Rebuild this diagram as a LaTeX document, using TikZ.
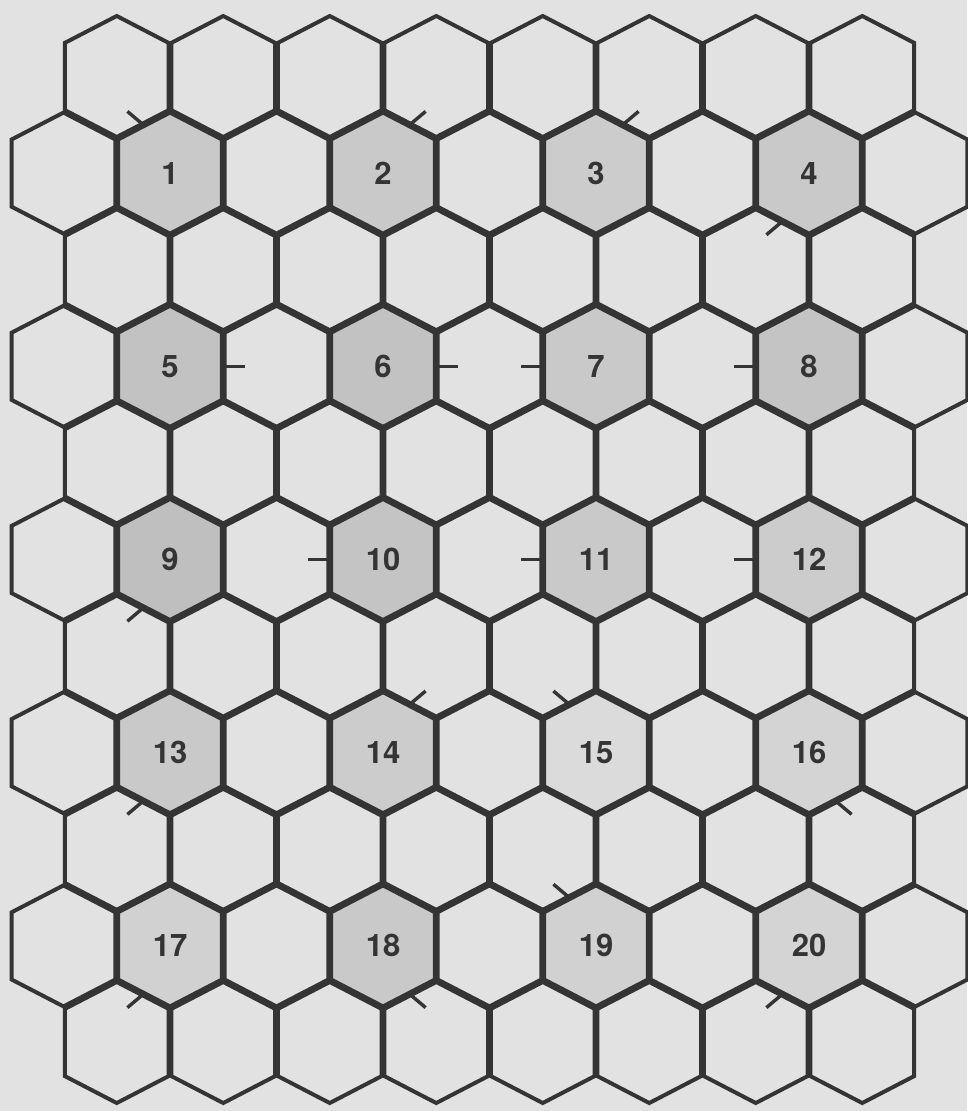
\documentclass[tikz,border=0pt]{standalone}
\usepackage{fontspec}
\setmainfont{TeX Gyre Heros}
\definecolor{paper}{RGB}{226,226,226}
\definecolor{ink}{RGB}{52,52,52}
\newcommand\HexAt[2]{%
  \begin{scope}[shift={(#1,#2)}]
    \clip[scale=1.012] (0,-62)--(53.25,-34.4)--(53.25,34.4)--(0,62)--(-53.25,34.4)--(-53.25,-34.4)--cycle;
    \draw[hexline] (0,-62)--(53.25,-34.4)--(53.25,34.4)--(0,62)--(-53.25,34.4)--(-53.25,-34.4)--cycle;
  \end{scope}}
\newcommand\HexFill[3]{%
  \fill[black!#3,shift={(#1,#2)}] (0,-62)--(53.25,-34.4)--(53.25,34.4)--(0,62)--(-53.25,34.4)--(-53.25,-34.4)--cycle;}
\begin{document}
\begin{tikzpicture}[x=1pt,y=-1pt,
  hexline/.style={draw=ink,line width=6.6pt,line join=round},
  tickmark/.style={draw=ink,line width=3.4pt},
  lab/.style={text=ink,font=\fontsize{31}{31}\selectfont\bfseries,inner sep=0pt}]
\fill[paper] (0,0) rectangle (967,1111);
\useasboundingbox (0,0) rectangle (967,1111);
% shaded hexes
\foreach \n/\p in {1/21,2/21,3/20,4/21,5/24,6/24,7/21,8/23,9/25,10/23,11/21,12/20,13/21,14/20,15/14,16/17,17/18,18/21,19/18,20/17}{
  \pgfmathtruncatemacro\rr{2*int((\n-1)/4)+1}
  \pgfmathtruncatemacro\kk{2*mod(\n-1,4)+1}
  \pgfmathsetmacro\cx{63.5+106.5*\kk}
  \pgfmathsetmacro\cy{76.5+96.6*\rr}
  \HexFill{\cx}{\cy}{\p}
}
% grid
\foreach \r in {0,...,10}{
  \pgfmathsetmacro\cy{76.5+96.6*\r}
  \ifodd\r
    \foreach \k in {0,...,8}{\pgfmathsetmacro\cx{63.5+106.5*\k}\HexAt{\cx}{\cy}}
  \else
    \foreach \k in {0,...,7}{\pgfmathsetmacro\cx{116.75+106.5*\k}\HexAt{\cx}{\cy}}
  \fi
}
% ticks
\foreach \n/\mx/\my/\dx/\dy in {
  1/-26.6/-48.2/-16/-13.5, 2/26.6/-48.2/16/-13.5, 3/26.6/-48.2/16/-13.5, 4/-26.6/48.2/-16/13.5,
  5/53.25/0/22/0, 6/53.25/0/22/0, 7/-53.25/0/-22/0, 8/-53.25/0/-22/0,
  9/-26.6/48.2/-16/13.5, 10/-53.25/0/-22/0, 11/-53.25/0/-22/0, 12/-53.25/0/-22/0,
  13/-26.6/48.2/-16/13.5, 14/26.6/-48.2/16/-13.5, 15/-26.6/-48.2/-16/-13.5, 16/26.6/48.2/16/13.5,
  17/-26.6/48.2/-16/13.5, 18/26.6/48.2/16/13.5, 19/-26.6/-48.2/-16/-13.5, 20/-26.6/48.2/-16/13.5}{
  \pgfmathtruncatemacro\rr{2*int((\n-1)/4)+1}
  \pgfmathtruncatemacro\kk{2*mod(\n-1,4)+1}
  \pgfmathsetmacro\cx{63.5+106.5*\kk}
  \pgfmathsetmacro\cy{76.5+96.6*\rr}
  \draw[tickmark,shift={(\cx,\cy)}] (\mx,\my) -- ++(\dx,\dy);
}
% labels
\foreach \n in {1,...,20}{
  \pgfmathtruncatemacro\rr{2*int((\n-1)/4)+1}
  \pgfmathtruncatemacro\kk{2*mod(\n-1,4)+1}
  \pgfmathsetmacro\cx{63.5+106.5*\kk}
  \pgfmathsetmacro\cy{76.5+96.6*\rr}
  \node[lab] (l\n) at (\cx,\cy) {\n};
}
\end{tikzpicture}
\end{document}
